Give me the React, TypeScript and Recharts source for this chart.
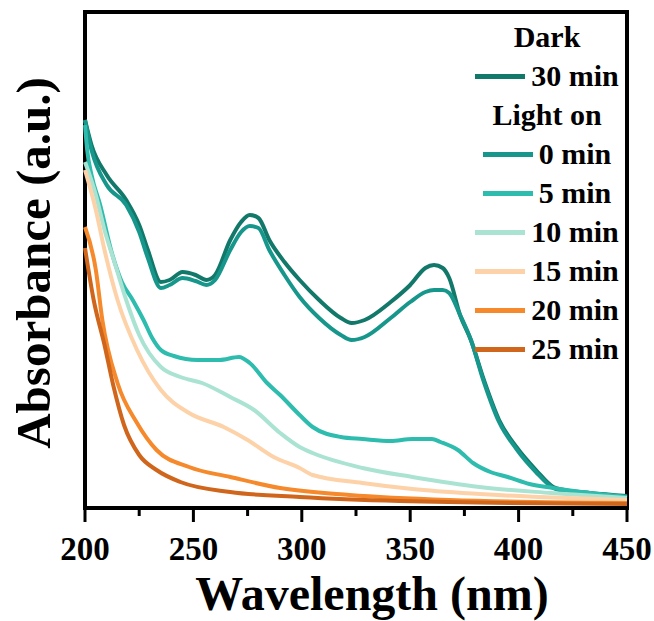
import React from 'react';
import { LineChart, Line, XAxis, YAxis, ReferenceArea } from 'recharts';

// wavelength (nm) / absorbance (a.u.)
const dark30W = [200, 203, 210, 219, 225, 229, 235, 239, 245, 251, 256, 260, 267, 272, 276, 280, 285, 292, 299, 308, 318, 323, 329, 341, 350, 357, 361, 365, 368, 373, 378, 384, 391, 399, 408, 416, 421, 433, 450];
const dark30A = [3.88, 3.63, 3.33, 3.08, 2.83, 2.58, 2.26, 2.28, 2.36, 2.33, 2.28, 2.33, 2.68, 2.86, 2.93, 2.9, 2.68, 2.46, 2.28, 2.08, 1.9, 1.85, 1.88, 2.06, 2.23, 2.4, 2.43, 2.4, 2.3, 1.93, 1.68, 1.28, 0.88, 0.61, 0.38, 0.21, 0.18, 0.15, 0.12];

const light0W = [200, 203, 210, 219, 225, 229, 235, 239, 245, 251, 256, 260, 267, 272, 276, 280, 285, 292, 299, 308, 318, 323, 329, 341, 350, 357, 361, 365, 368, 373, 378, 384, 391, 399, 408, 416, 421, 433, 450];
const light0A = [3.88, 3.58, 3.23, 3.03, 2.76, 2.5, 2.2, 2.23, 2.3, 2.27, 2.23, 2.28, 2.58, 2.76, 2.82, 2.8, 2.58, 2.33, 2.11, 1.9, 1.73, 1.68, 1.71, 1.9, 2.06, 2.16, 2.18, 2.18, 2.15, 1.93, 1.68, 1.26, 0.86, 0.59, 0.36, 0.2, 0.17, 0.14, 0.11];

const light5W = [200, 201, 203, 207, 212, 217, 222, 227, 231, 235, 241, 252, 262, 271, 276, 284, 290, 299, 305, 318, 328, 341, 351, 360, 364, 372, 379, 387, 395, 405, 416, 433, 450];
const light5A = [3.83, 3.58, 3.33, 3.03, 2.58, 2.26, 2.08, 1.88, 1.7, 1.58, 1.52, 1.48, 1.48, 1.51, 1.45, 1.25, 1.13, 0.93, 0.81, 0.71, 0.69, 0.67, 0.69, 0.69, 0.66, 0.58, 0.45, 0.36, 0.31, 0.24, 0.2, 0.15, 0.11];

const light10W = [200, 205, 209, 214, 219, 225, 235, 244, 254, 267, 278, 290, 299, 305, 328, 351, 382, 415, 450];
const light10A = [3.46, 3.13, 2.78, 2.43, 2.08, 1.73, 1.41, 1.31, 1.25, 1.11, 0.98, 0.75, 0.61, 0.55, 0.4, 0.31, 0.21, 0.15, 0.1];

const light15W = [200, 205, 209, 215, 224, 235, 248, 264, 275, 287, 299, 305, 328, 351, 382, 450];
const light15A = [3.38, 2.98, 2.58, 2.08, 1.58, 1.18, 0.95, 0.81, 0.68, 0.51, 0.4, 0.33, 0.25, 0.19, 0.14, 0.08];

const light20W = [200, 205, 208, 215, 224, 233, 248, 267, 290, 322, 368, 450];
const light20A = [2.81, 2.38, 1.88, 1.25, 0.85, 0.58, 0.41, 0.31, 0.2, 0.13, 0.08, 0.05];

const light25W = [200, 204, 209, 213, 218, 225, 233, 244, 267, 299, 345, 450];
const light25A = [2.6, 2.08, 1.63, 1.23, 0.83, 0.53, 0.38, 0.26, 0.16, 0.11, 0.07, 0.04];

const xTicks = [200, 225, 250, 275, 300, 325, 350, 375, 400, 425, 450];

const FONT = '"Liberation Serif", "Times New Roman", serif';

const toRows = (w: number[], a: number[]) => w.map((wl, i) => ({ w: wl, a: a[i] }));

const series = [
  { name: '30 min', color: '#11786a', data: toRows(dark30W, dark30A) },
  { name: '0 min', color: '#17978b', data: toRows(light0W, light0A) },
  { name: '5 min', color: '#2dbcad', data: toRows(light5W, light5A) },
  { name: '10 min', color: '#abe3d3', data: toRows(light10W, light10A) },
  { name: '15 min', color: '#fdd2a8', data: toRows(light15W, light15A) },
  { name: '20 min', color: '#f5892b', data: toRows(light20W, light20A) },
  { name: '25 min', color: '#cf661c', data: toRows(light25W, light25A) },
];

const XTick = (props: any) => {
  const { x, y, payload } = props;
  const major = payload.value % 50 === 0;
  return (
    <g>
      <line x1={x} x2={x} y1={y} y2={y + (major ? 14 : 8)} stroke="#000" strokeWidth={3} />
      {major && (
        <text x={x} y={y + 52} textAnchor="middle" fontFamily={FONT} fontWeight="bold" fontSize={33} fill="#000">
          {payload.value}
        </text>
      )}
    </g>
  );
};

const legendRows: { label: string; color?: string }[] = [
  { label: 'Dark' },
  { label: '30 min', color: series[0].color },
  { label: 'Light on' },
  ...series.slice(1).map((s) => ({ label: s.name, color: s.color })),
];

const App: React.FC = () => {
  return (
    <div style={{ position: 'absolute', left: 0, top: 0, width: 654, height: 621, background: '#fff' }}>
      <LineChart width={654} height={621} margin={{ top: 12, right: 27, left: 0, bottom: 0 }}>
        <XAxis
          type="number"
          dataKey="w"
          domain={[200, 450]}
          ticks={xTicks}
          interval={0}
          axisLine={false}
          tickLine={false}
          tickSize={0}
          tickMargin={0}
          height={113}
          tick={<XTick />}
          allowDuplicatedCategory={false}
          label={{
            content: (p: any) => (
              <text
                x={p.viewBox.x + p.viewBox.width / 2 + 16}
                y={610}
                textAnchor="middle"
                fontFamily={FONT}
                fontWeight="bold"
                fontSize={48}
                fill="#000"
              >
                Wavelength (nm)
              </text>
            ),
          }}
        />
        <YAxis
          type="number"
          domain={[0, 4.96]}
          allowDataOverflow
          tick={false}
          axisLine={false}
          tickLine={false}
          width={85}
          label={{
            content: (p: any) => {
              const cy = p.viewBox.y + p.viewBox.height / 2 + 3;
              return (
                <text
                  x={50}
                  y={cy}
                  transform={`rotate(-90, 50, ${cy})`}
                  textAnchor="middle"
                  fontFamily={FONT}
                  fontWeight="bold"
                  fontSize={49}
                  fill="#000"
                >
                  Absorbance (a.u.)
                </text>
              );
            },
          }}
        />
        {series.map((s) => (
          <Line
            key={s.name}
            data={s.data}
            dataKey="a"
            type="monotone"
            stroke={s.color}
            strokeWidth={4}
            dot={false}
            isAnimationActive={false}
          />
        ))}
        <ReferenceArea x1={200} x2={450} y1={0} y2={4.96} fill="none" stroke="#000" strokeWidth={4} ifOverflow="visible" />
      </LineChart>
      <div style={{ position: 'absolute', left: 462, top: 17.5, width: 170 }}>
        {legendRows.map((r) => (
          <div
            key={r.label}
            style={{
              height: 39,
              display: 'flex',
              alignItems: 'center',
              justifyContent: 'center',
              fontFamily: FONT,
              fontWeight: 'bold',
              fontSize: 30,
              color: '#000',
              whiteSpace: 'nowrap',
            }}
          >
            {r.color && <span style={{ display: 'inline-block', width: 50, height: 5, background: r.color, marginRight: 6 }} />}
            <span>{r.label}</span>
          </div>
        ))}
      </div>
    </div>
  );
};

export default App;
